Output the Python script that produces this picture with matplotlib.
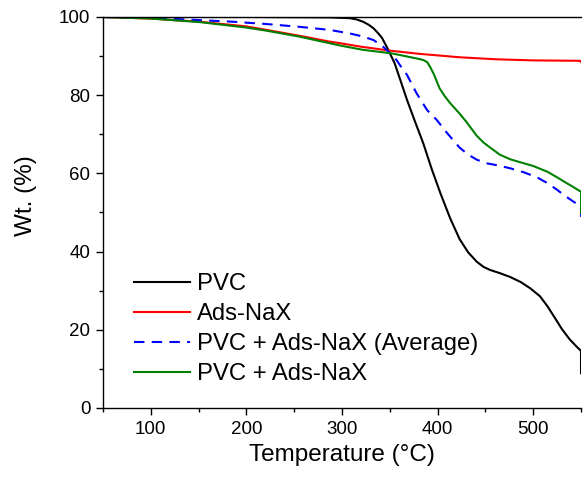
import matplotlib
matplotlib.use("Agg")
import matplotlib.pyplot as plt
from matplotlib.ticker import MultipleLocator

plt.rcParams['font.family'] = ['Liberation Sans', 'DejaVu Sans']

# PVC
pvc_T = [50, 100, 200, 287, 308, 315, 322, 328, 333, 338, 342, 348, 355, 361, 368, 376, 385, 394, 403, 413,
         423, 432, 441, 448, 455, 465, 476, 487, 497, 507, 515, 522, 530, 538, 545, 550, 550]
pvc_W = [100, 100, 100, 99.9, 99.7, 99.4, 98.8, 98.0, 97.1, 95.8, 94.6, 91.8, 88.2, 83.9, 78.8, 73.5, 67.7,
         61.0, 54.9, 48.6, 43.2, 39.8, 37.4, 36.1, 35.3, 34.5, 33.5, 32.2, 30.6, 28.6, 26.0, 23.3, 20.2, 17.6,
         15.8, 14.6, 8.9]

# Ads-NaX
ads_T = [50, 100, 151, 200, 221, 260, 287, 298, 320, 350, 380, 423, 460, 500, 549, 550]
ads_W = [100, 99.6, 98.8, 97.6, 96.7, 95.0, 93.7, 93.3, 92.4, 91.4, 90.6, 89.7, 89.2, 88.9, 88.8, 88.5]

# PVC + Ads-NaX (Average)
avg_T = [50, 100, 151, 185, 221, 255, 287, 308, 322, 333, 343, 350, 357, 362, 368, 378, 389, 399, 410, 423,
         432, 441, 451, 462, 476, 490, 504, 515, 525, 533, 542, 550, 550]
avg_W = [100, 99.8, 99.2, 98.8, 98.2, 97.5, 96.7, 95.8, 95.0, 94.1, 92.4, 90.8, 89.0, 87.2, 85.2, 80.5, 76.2,
         73.7, 70.3, 66.6, 64.8, 63.5, 62.6, 62.1, 61.3, 60.3, 59.0, 57.5, 55.8, 54.3, 52.8, 51.5, 48.9]

# PVC + Ads-NaX
mix_T = [50, 100, 151, 200, 221, 255, 287, 298, 322, 352, 378, 385, 389, 392, 396, 402, 407, 413, 423, 430,
         441, 448, 455, 465, 476, 490, 500, 515, 525, 533, 542, 550, 550]
mix_W = [100, 99.6, 98.7, 97.3, 96.5, 95.0, 93.3, 92.7, 91.6, 90.7, 89.4, 89.0, 88.5, 87.3, 85.4, 81.8, 79.9,
         78.0, 75.3, 73.2, 69.6, 67.9, 66.6, 64.8, 63.6, 62.6, 61.9, 60.4, 59.0, 57.8, 56.5, 55.3, 49.8]

labels = ["PVC", "Ads-NaX", "PVC + Ads-NaX (Average)", "PVC + Ads-NaX"]

fig = plt.figure(figsize=(5.84, 4.79), dpi=100)
ax = fig.add_axes([103/584, 71/479, 478/584, 391/479])

ax.plot(pvc_T, pvc_W, color='black', lw=1.5, label=labels[0])
ax.plot(ads_T, ads_W, color='red', lw=1.5, label=labels[1])
ax.plot(avg_T, avg_W, color='blue', lw=1.5, ls=(0, (5, 3.5)), label=labels[2])
ax.plot(mix_T, mix_W, color='green', lw=1.5, label=labels[3])

ax.set_xlim(50, 550)
ax.set_ylim(0, 100)
ax.xaxis.set_major_locator(MultipleLocator(100))
ax.xaxis.set_minor_locator(MultipleLocator(50))
ax.yaxis.set_major_locator(MultipleLocator(20))
ax.yaxis.set_minor_locator(MultipleLocator(10))
ax.tick_params(which='major', direction='out', length=5, width=1, labelsize=13.5, pad=4)
ax.tick_params(which='minor', direction='out', length=3, width=1)
ax.spines['right'].set_visible(False)
for s in ['left', 'bottom', 'top']:
    ax.spines[s].set_linewidth(1)

ax.set_xlabel("Temperature (°C)", fontsize=17.5, labelpad=5)
ax.set_ylabel("Wt. (%)", fontsize=17.5)
ax.yaxis.set_label_coords(-0.138, 0.542)

leg = ax.legend(loc='lower left', bbox_to_anchor=(0.065, 0.058), frameon=False, fontsize=17.2,
                handlelength=2.35, handletextpad=0.3, labelspacing=0.34, borderpad=0, borderaxespad=0)

fig.savefig("out.png", dpi=100)
